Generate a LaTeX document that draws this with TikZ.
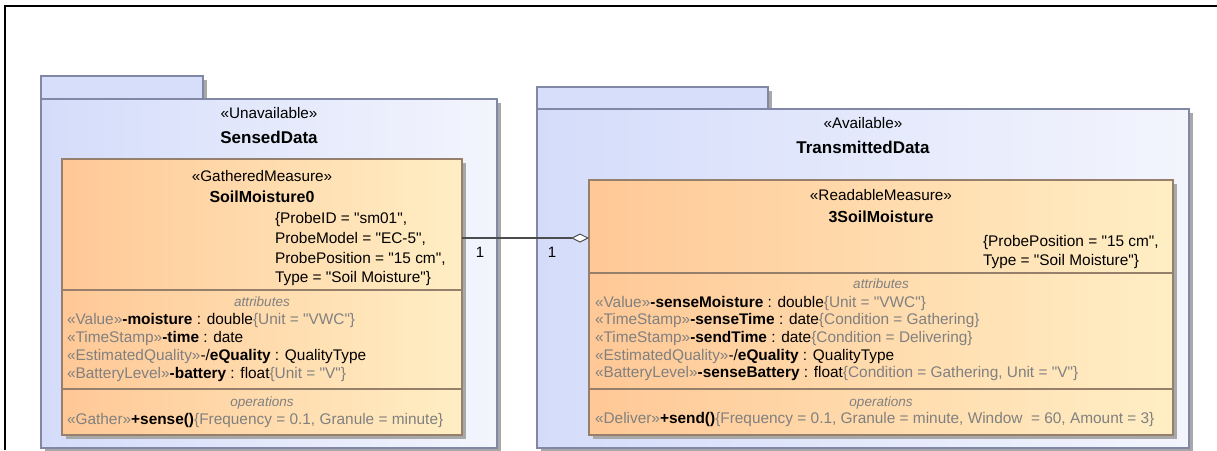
\documentclass[tikz,border=0pt]{standalone}
\usepackage{fontspec}
\setmainfont{Liberation Sans}
\newfontfamily\umlfont{Liberation Sans}
\usetikzlibrary{arrows.meta,shadows}
\definecolor{pkgborder}{RGB}{128,136,166}
\definecolor{pkgL}{RGB}{212,220,250}
\definecolor{pkgR}{RGB}{243,245,253}
\definecolor{tabfill}{RGB}{214,222,250}
\definecolor{clsL}{RGB}{255,200,150}
\definecolor{clsR}{RGB}{255,238,196}
\definecolor{clsborder}{RGB}{150,128,108}
\definecolor{sgray}{RGB}{128,128,128}
\definecolor{shadowc}{RGB}{168,168,168}
\tikzset{
  base/.style={inner sep=0pt, outer sep=0pt},
  pkgtab/.style={base, draw=pkgborder, line width=1.2pt, fill=tabfill, anchor=north west,
     drop shadow={shadow xshift=4pt, shadow yshift=-4pt, fill=shadowc, opacity=1}},
  pkgbody/.style={base, draw=pkgborder, line width=1.2pt, left color=pkgL, right color=pkgR, anchor=north west,
     drop shadow={shadow xshift=4pt, shadow yshift=-4pt, fill=shadowc, opacity=1}},
  clsbox/.style={base, draw=clsborder, line width=1.2pt, left color=clsL, right color=clsR, anchor=north west,
     drop shadow={shadow xshift=4pt, shadow yshift=-4pt, fill=shadowc, opacity=1}},
  sep/.style={draw=clsborder, line width=1.2pt},
  ster/.style={base, anchor=base, font=\umlfont\fontsize{15.3}{18}\selectfont},
  ptitle/.style={base, anchor=base, font=\umlfont\bfseries\fontsize{17}{20}\selectfont},
  cname/.style={base, anchor=base, font=\umlfont\bfseries\fontsize{16}{18}\selectfont},
  tv/.style={base, anchor=base west, font=\umlfont\fontsize{15.4}{18}\selectfont},
  comp/.style={base, anchor=base, font=\umlfont\itshape\fontsize{13.5}{16}\selectfont, text=sgray},
  attr/.style={base, anchor=base west, font=\umlfont\fontsize{15.4}{18}\selectfont},
  mult/.style={base, anchor=base, font=\umlfont\fontsize{15}{18}\selectfont},
  assoc/.style={draw=black!70, line width=1.2pt, -{Diamond[length=18pt,width=9pt,fill=white,line width=1pt]}},
}
\newcommand{\sg}[1]{{\color{sgray}#1}}
\begin{document}
\begin{tikzpicture}[x=1pt,y=-1pt]
\useasboundingbox (0,0) rectangle (1217,450);
\fill[white] (0,0) rectangle (1217,450);
\draw[line width=2pt] (5,450) -- (5,6) -- (1217,6);

% left package
\node[pkgtab, minimum width=162pt, minimum height=23pt] (t1) at (41,76) {};
\node[pkgbody, minimum width=456pt, minimum height=349pt] (p1) at (41,99) {};
\node[ster] (s1) at (269,118) {«Unavailable»};
\node[ptitle] (n1) at (269,143) {SensedData};

% right package
\node[pkgtab, minimum width=231pt, minimum height=22pt] (t2) at (537,87) {};
\node[pkgbody, minimum width=652pt, minimum height=339pt] (p2) at (537,109) {};
\node[ster] (s2) at (863,128) {«Available»};
\node[ptitle] (n2) at (863,153) {TransmittedData};

% left class
\node[clsbox, minimum width=400pt, minimum height=276pt] (c1) at (62,159) {};
\draw[sep] (62,290) -- (462,290);
\draw[sep] (62,389) -- (462,389);
\node[ster] (c1s) at (262,181) {«GatheredMeasure»};
\node[cname] (c1n) at (262,202.5) {SoilMoisture0};
\node[tv] (c1t1) at (275,223) {\{ProbeID = "sm01",};
\node[tv] (c1t2) at (275,243) {ProbeModel = "EC-5",};
\node[tv] (c1t3) at (275,263) {ProbePosition = "15 cm",};
\node[tv] (c1t4) at (275,282) {Type = "Soil Moisture"\}};
\node[comp] (c1a) at (262,306) {attributes};
\node[attr] (c1a1) at (67,324) {\sg{«Value»}\textbf{-moisture} : double\sg{\{Unit = "VWC"\}}};
\node[attr] (c1a2) at (67,342) {\sg{«TimeStamp»}\textbf{-time} : date};
\node[attr] (c1a3) at (67,360) {\sg{«EstimatedQuality»}-/\textbf{eQuality} : QualityType};
\node[attr] (c1a4) at (67,378) {\sg{«BatteryLevel»}\textbf{-battery} : float\sg{\{Unit = "V"\}}};
\node[comp] (c1o) at (262,406) {operations};
\node[attr] (c1o1) at (67,424) {\sg{«Gather»}\textbf{+sense()}\sg{\{Frequency = 0.1, Granule = minute\}}};

% right class
\node[clsbox, minimum width=584pt, minimum height=255pt] (c2) at (589,180) {};
\draw[sep] (589,273) -- (1173,273);
\draw[sep] (589,389) -- (1173,389);
\node[ster] (c2s) at (881,200) {«ReadableMeasure»};
\node[cname] (c2n) at (881,222.5) {3SoilMoisture};
\node[tv] (c2t1) at (983,246) {\{ProbePosition = "15 cm",};
\node[tv] (c2t2) at (983,265) {Type = "Soil Moisture"\}};
\node[comp] (c2a) at (881,288) {attributes};
\node[attr] (c2a1) at (595,307) {\sg{«Value»}\textbf{-senseMoisture} : double\sg{\{Unit = "VWC"\}}};
\node[attr] (c2a2) at (595,324) {\sg{«TimeStamp»}\textbf{-senseTime} : date\sg{\{Condition = Gathering\}}};
\node[attr] (c2a3) at (595,342) {\sg{«TimeStamp»}\textbf{-sendTime} : date\sg{\{Condition = Delivering\}}};
\node[attr] (c2a4) at (595,360) {\sg{«EstimatedQuality»}-/\textbf{eQuality} : QualityType};
\node[attr] (c2a5) at (595,377) {\sg{«BatteryLevel»}\textbf{-senseBattery} : float\sg{\{Condition = Gathering, Unit = "V"\}}};
\node[comp] (c2o) at (881,406) {operations};
\node[attr] (c2o1) at (595,423) {\sg{«Deliver»}\textbf{+send()}\sg{\{Frequency = 0.1, Granule = minute, Window\ \ = 60, Amount = 3\}}};

% association
\coordinate (lvl) at (0,238);
\draw[assoc] (c1.east |- lvl) -- (c2.west |- lvl);
\node[mult] (m1) at (480,257) {1};
\node[mult] (m2) at (552,257) {1};
\end{tikzpicture}
\end{document}
